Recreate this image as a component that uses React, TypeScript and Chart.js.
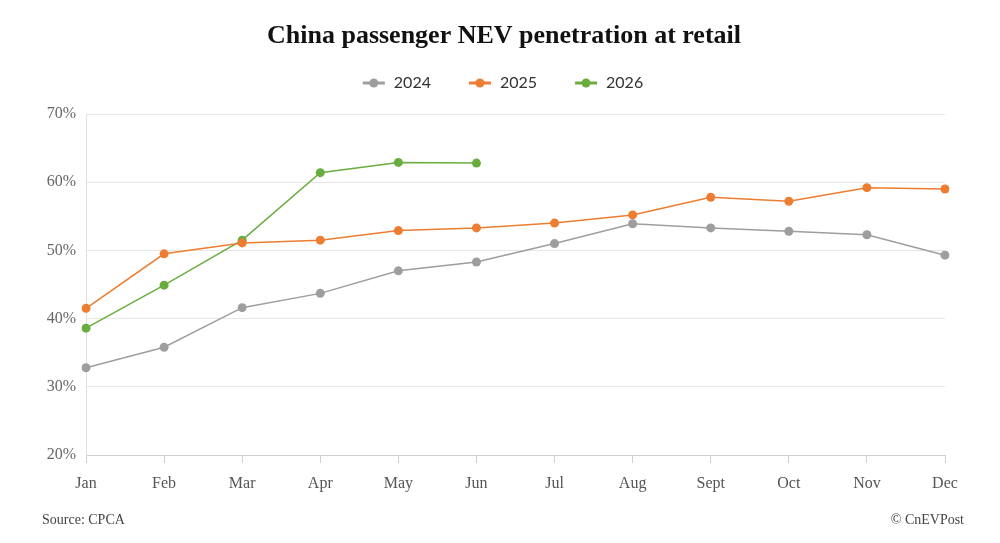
import React, { useEffect, useRef } from "react";
import { Chart, registerables } from "chart.js";

Chart.register(...registerables);

const months = ["Jan", "Feb", "Mar", "Apr", "May", "Jun", "Jul", "Aug", "Sept", "Oct", "Nov", "Dec"];
const series2024 = [32.8, 35.8, 41.6, 43.7, 47.0, 48.3, 51.0, 53.9, 53.3, 52.8, 52.3, 49.3];
const series2025 = [41.5, 49.5, 51.1, 51.5, 52.9, 53.3, 54.0, 55.2, 57.8, 57.2, 59.2, 59.0];
const series2026 = [38.6, 44.9, 51.5, 61.4, 62.9, 62.8];
const seriesNames = ["2024", "2025", "2026"];
const seriesColors = ["#9e9e9e", "#ed7d31", "#6aad3f"];
const titleText = "China passenger NEV penetration at retail";
const sourceText = "Source: CPCA";
const creditText = "© CnEVPost";

const FONT = "'Liberation Serif', 'Times New Roman', serif";
const LEGEND_FONT = "Lato, 'Noto Sans', sans-serif";

const titlePlugin = {
  id: "customTitle",
  afterDraw(chart: any) {
    const ctx = chart.ctx;
    ctx.save();
    ctx.font = `bold 26px ${FONT}`;
    ctx.fillStyle = "#111";
    ctx.textAlign = "center";
    ctx.textBaseline = "middle";
    ctx.fillText(titleText, 504, 36);
    ctx.restore();
  },
};

const legendPlugin = {
  id: "lineLegend",
  afterDraw(chart: any) {
    const ctx = chart.ctx;
    const ds = chart.data.datasets;
    ctx.save();
    ctx.font = `16px ${LEGEND_FONT}`;
    const marker = 22;
    const gapText = 9;
    const gapItem = 38;
    const widths = ds.map((d: any) => marker + gapText + ctx.measureText(d.label).width);
    const total = widths.reduce((a: number, b: number) => a + b, 0) + gapItem * (ds.length - 1);
    let x = 503 - total / 2;
    const y = 83;
    ds.forEach((d: any, i: number) => {
      const color = d.borderColor;
      ctx.strokeStyle = color;
      ctx.lineWidth = 3;
      ctx.beginPath();
      ctx.moveTo(x, y);
      ctx.lineTo(x + marker, y);
      ctx.stroke();
      ctx.fillStyle = color;
      ctx.beginPath();
      ctx.arc(x + marker / 2, y, 4.5, 0, Math.PI * 2);
      ctx.fill();
      ctx.fillStyle = "#333";
      ctx.textAlign = "left";
      ctx.textBaseline = "middle";
      ctx.fillText(d.label, x + marker + gapText, y);
      x += widths[i] + gapItem;
    });
    ctx.restore();
  },
};

const footerPlugin = {
  id: "footerTexts",
  afterDraw(chart: any) {
    const ctx = chart.ctx;
    ctx.save();
    ctx.font = `14px ${FONT}`;
    ctx.fillStyle = "#444";
    ctx.textBaseline = "middle";
    ctx.textAlign = "left";
    ctx.fillText(sourceText, 42, 520);
    ctx.textAlign = "right";
    ctx.fillText(creditText, 964, 520);
    ctx.restore();
  },
};

export default function App() {
  const ref = useRef<HTMLCanvasElement>(null);
  useEffect(() => {
    const chart = new Chart(ref.current!, {
      type: "line",
      data: {
        labels: months,
        datasets: [series2024, series2025, series2026].map((d, i) => ({
          label: seriesNames[i],
          data: d,
          borderColor: seriesColors[i],
          backgroundColor: seriesColors[i],
          borderWidth: 1.5,
          pointRadius: 4.5,
          pointHoverRadius: 4.5,
          pointBorderWidth: 0,
          tension: 0,
        })),
      },
      options: {
        animation: false,
        responsive: false,
        layout: { padding: { left: 0, right: 55, top: 114, bottom: 48 } },
        plugins: {
          tooltip: { enabled: false },
          legend: { display: false },
          title: { display: false },
        },
        scales: {
          x: {
            offset: false,
            grid: { display: true, drawOnChartArea: false, drawTicks: true, tickLength: 8, color: "#d0d0d0" },
            border: { display: true, color: "#d0d0d0" },
            ticks: { color: "#555", font: { family: FONT, size: 16 }, padding: 11, maxRotation: 0, autoSkip: false },
            afterFit: (s: any) => { s.height = 40; },
          },
          y: {
            min: 20,
            max: 70,
            grid: { color: "#e6e6e6", drawTicks: false },
            border: { display: true, color: "#e0e0e0" },
            ticks: {
              stepSize: 10,
              color: "#666",
              font: { family: FONT, size: 16 },
              padding: 10,
              callback: (v: any) => v + "%",
            },
            afterFit: (s: any) => { s.width = 86; },
          },
        },
      },
      plugins: [titlePlugin, legendPlugin, footerPlugin],
    } as any);
    return () => chart.destroy();
  }, []);
  return (
    <div style={{ position: "absolute", left: 0, top: 0, width: 1000, height: 543, background: "#fff" }}>
      <canvas ref={ref} width={1000} height={543} style={{ width: 1000, height: 543 }} />
    </div>
  );
}
